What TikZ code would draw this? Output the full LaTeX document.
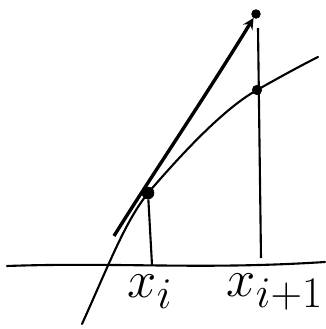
\documentclass[tikz,border=0pt]{standalone}
\usepackage{tikz}
\usetikzlibrary{arrows, calc}

\begin{document}
\begin{tikzpicture}[
    x=0.025cm, y=-0.025cm,
    curve/.style={line width=1.5pt, black, line cap=round},
    guide/.style={line width=1.5pt, black},
    point/.style={circle, draw=black, fill=black, inner sep=0pt, minimum size=0.3cm},
    tangent/.style={-{stealth}, >=stealth, line width=2.4pt},
    label/.style={font=\Huge}
]
\useasboundingbox (0, 0) rectangle (325, 329);

% Axis
\coordinate (axl) at (7, 266);
\coordinate (axr) at (325, 262);
\draw[curve] (axl) .. controls (120, 262) and (200, 270) .. (axr);

% Curve
\node[point] (xi) at (148, 193) {};
\node[point, minimum size=0.24cm] (xip) at (257, 90) {};
\coordinate (cs) at (82, 324);
\coordinate (ce) at (318, 57);
\draw[curve] (cs) .. controls (110, 262) and (125, 222) .. (xi.center)
    .. controls (185, 150) and (225, 108) .. (xip.center)
    .. controls (280, 77) and (300, 66) .. (ce);

% Verticals
\coordinate (fi) at (152, 265);
\coordinate (fip) at (261, 258);
\coordinate (top) at (258, 28);
\draw[guide] (xi) -- (fi);
\draw[guide] (top) -- (fip);

% Tangent
\coordinate (ts) at (114, 236);
\node[point, minimum size=0.22cm] (tip) at (256, 14) {};
\draw[tangent] (ts) .. controls (150, 178) and (200, 105) .. (tip);

% Labels
\node[label] (li) at (150, 292) {\scalebox{1.5}{$x_i$}};
\node[label] (lip) at (275, 292) {\scalebox{1.5}{$x_{i+1}$}};

\end{tikzpicture}
\end{document}
